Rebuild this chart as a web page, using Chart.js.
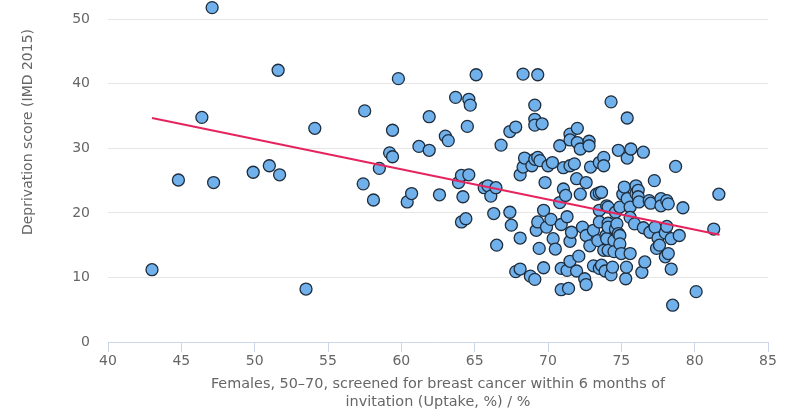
<!DOCTYPE html>
<html>
<head>
<meta charset="utf-8">
<script src="https://cdn.jsdelivr.net/npm/chart.js"></script>
<style>
    html, body { margin: 0; padding: 0; background: #ffffff; }
    #chart { display: block; }
</style>
</head>
<body>
<canvas id="chart" width="787" height="412"></canvas>
<script>
// --- Datos ---
const uptakeValues = [
    43.0, 44.8, 46.4, 47.1, 47.2, 49.9, 51.0, 51.6, 51.7, 53.5,
    54.1, 57.4, 57.5, 58.1, 58.5, 59.2, 59.4, 59.4, 59.8, 60.4,
    60.7, 61.2, 61.9, 61.9, 62.6, 63.0, 63.2, 63.7, 63.9, 64.1,
    64.1, 64.2, 64.4, 64.5, 64.6, 64.6, 64.7, 65.1, 65.65, 65.9,
    66.1, 66.3, 66.45, 66.5, 66.8, 67.4, 67.4, 67.5, 67.8, 67.8,
    68.1, 68.1, 68.1, 68.3, 68.3, 68.4, 68.8, 68.9, 69.1, 69.1,
    69.1, 69.1, 69.1, 69.2, 69.3, 69.3, 69.3, 69.4, 69.45, 69.6,
    69.7, 69.7, 69.8, 69.9, 70.0, 70.2, 70.3, 70.35, 70.5, 70.8,
    70.8, 70.9, 70.9, 70.9, 71.05, 71.05, 71.2, 71.3, 71.3, 71.4,
    71.5, 71.5, 71.5, 71.5, 71.5, 71.6, 71.8, 71.95, 71.95, 72.0,
    72.0, 72.1, 72.2, 72.2, 72.35, 72.5, 72.6, 72.6, 72.6, 72.8,
    72.8, 72.85, 72.9, 73.1, 73.1, 73.3, 73.4, 73.5, 73.5, 73.5,
    73.5, 73.5, 73.65, 73.65, 73.8, 73.8, 73.8, 73.9, 73.95, 74.0,
    74.0, 74.1, 74.1, 74.1, 74.1, 74.3, 74.3, 74.4, 74.5, 74.5,
    74.6, 74.6, 74.7, 74.8, 74.8, 74.9, 74.9, 74.9, 75.0, 75.1,
    75.2, 75.3, 75.35, 75.4, 75.4, 75.4, 75.6, 75.6, 75.6, 75.65,
    75.9, 76.0, 76.0, 76.15, 76.15, 76.2, 76.4, 76.5, 76.5, 76.6,
    76.9, 76.95, 77.0, 77.25, 77.3, 77.4, 77.5, 77.6, 77.7, 77.7,
    78.0, 78.0, 78.1, 78.1, 78.2, 78.2, 78.4, 78.4, 78.5, 78.7,
    78.95, 79.2, 80.1, 81.3, 81.65
];
const deprivationValues = [
    11.2, 25.1, 34.8, 51.8, 24.7, 26.3, 27.3, 42.1, 25.9, 8.2,
    33.1, 24.5, 35.8, 22.0, 26.9, 29.3, 28.7, 32.8, 40.8, 21.7,
    23.0, 30.3, 29.7, 34.9, 22.8, 31.9, 31.2, 37.9, 24.7, 25.8,
    18.6, 22.5, 19.1, 33.4, 37.6, 25.9, 36.7, 41.4, 23.9, 24.2,
    22.6, 19.9, 23.9, 15.0, 30.5, 32.6, 20.1, 18.1, 33.3, 10.9,
    25.9, 16.1, 11.3, 41.5, 27.1, 28.5, 10.2, 27.3, 36.7, 34.5,
    33.6, 28.3, 9.7, 17.3, 41.4, 28.6, 18.6, 14.5, 28.1, 33.8,
    20.4, 11.5, 24.7, 17.8, 27.3, 19.0, 27.8, 16.0, 14.4, 30.4,
    21.6, 18.2, 11.4, 8.1, 27.0, 23.7, 22.7, 19.4, 11.1, 8.3,
    32.2, 31.3, 27.3, 15.6, 12.5, 17.0, 27.6, 25.3, 11.0, 33.1,
    30.9, 13.3, 29.9, 22.9, 17.8, 9.8, 24.7, 16.5, 8.9, 31.1,
    30.4, 14.9, 27.1, 17.3, 11.8, 22.9, 15.7, 27.8, 23.1, 20.4,
    18.6, 11.4, 23.2, 11.9, 28.6, 27.3, 14.2, 11.0, 16.5, 21.1,
    16.0, 20.9, 18.4, 17.8, 14.2, 37.2, 10.4, 11.6, 15.7, 14.0,
    20.1, 17.5, 18.3, 29.7, 16.8, 20.9, 16.5, 15.2, 13.7, 22.9,
    24.0, 9.8, 11.6, 34.7, 28.5, 22.2, 20.9, 19.3, 13.7, 29.9,
    18.3, 24.2, 23.0, 23.5, 22.5, 21.7, 10.8, 29.4, 17.7, 12.4,
    21.9, 17.0, 21.5, 25.0, 17.8, 14.5, 16.1, 15.0, 22.2, 21.1,
    16.9, 13.2, 21.9, 17.9, 21.4, 13.7, 16.0, 11.3, 5.7, 27.2,
    16.5, 20.8, 7.8, 17.5, 22.9
];

// Recta de tendencia (extremos)
const trendX = [43.0, 81.7];
const trendY = [34.7, 16.6];

const xTicks = [40, 45, 50, 55, 60, 65, 70, 75, 80, 85];
const yTicks = [0, 10, 20, 30, 40, 50];

const xTitle = [
    "Females, 50\u201370, screened for breast cancer within 6 months of",
    "invitation (Uptake, %) / %",
];
const yTitle = "Deprivation score (IMD 2015)";

// --- Estilos ---
const FONT = "'DejaVu Sans', sans-serif";
const textColor = "#666666";
const gridColor = "#e6e6e6";
const axisColor = "#ccd6eb";

const points = uptakeValues.map((x, i) => ({ x: x, y: deprivationValues[i] }));
const trend = trendX.map((x, i) => ({ x: x, y: trendY[i] }));

// Título vertical del eje Y, dibujado a mano para ubicarlo como en la imagen
const yTitlePlugin = {
    id: "yTitlePlugin",
    afterDraw(chart) {
        const ctx = chart.ctx;
        ctx.save();
        ctx.translate(28, 132);
        ctx.rotate(-Math.PI / 2);
        ctx.font = "14px " + FONT;
        ctx.fillStyle = textColor;
        ctx.textAlign = "center";
        ctx.textBaseline = "middle";
        ctx.fillText(yTitle, 0, 0);
        ctx.restore();
    },
};

new Chart(document.getElementById("chart"), {
    type: "scatter",
    data: {
        datasets: [
            {
                label: "Trend",
                type: "line",
                data: trend,
                borderColor: "#e5245e",
                borderWidth: 2,
                pointRadius: 0,
                fill: false,
                order: 0,
            },
            {
                label: "Areas",
                data: points,
                backgroundColor: "#70b1ec",
                borderColor: "#1f2d3d",
                borderWidth: 1.3,
                pointRadius: 6,
                pointHoverRadius: 6,
                clip: false,
                order: 1,
            },
        ],
    },
    options: {
        responsive: false,
        animation: false,
        devicePixelRatio: 1,
        layout: { padding: { left: 0, right: 19, top: 0, bottom: 0 } },
        plugins: {
            legend: { display: false },
            tooltip: { enabled: false },
        },
        scales: {
            x: {
                type: "linear",
                min: 40,
                max: 85,
                afterBuildTicks: (scale) => {
                    scale.ticks = xTicks.map((v) => ({ value: v }));
                },
                afterFit: (scale) => {
                    scale.height = 70;
                    scale.paddingLeft = 0;
                    scale.paddingRight = 0;
                },
                ticks: {
                    color: textColor,
                    font: { family: FONT, size: 14 },
                    padding: 1,
                    maxRotation: 0,
                },
                grid: {
                    drawOnChartArea: false,
                    drawTicks: true,
                    tickLength: 10,
                    color: axisColor,
                },
                border: { display: true, color: axisColor, width: 1 },
                title: {
                    display: true,
                    text: xTitle,
                    color: textColor,
                    font: { family: FONT, size: 14.4 },
                    padding: { top: 0, bottom: 1.5 },
                },
            },
            y: {
                type: "linear",
                min: 0,
                max: 51.85,
                afterBuildTicks: (scale) => {
                    scale.ticks = yTicks.map((v) => ({ value: v }));
                },
                afterFit: (scale) => {
                    scale.width = 108;
                    scale.paddingTop = 0;
                    scale.paddingBottom = 0;
                },
                ticks: {
                    color: textColor,
                    font: { family: FONT, size: 14 },
                    padding: 18,
                },
                grid: {
                    color: gridColor,
                    drawTicks: false,
                },
                border: { display: false },
            },
        },
    },
    plugins: [yTitlePlugin],
});
</script>
</body>
</html>
